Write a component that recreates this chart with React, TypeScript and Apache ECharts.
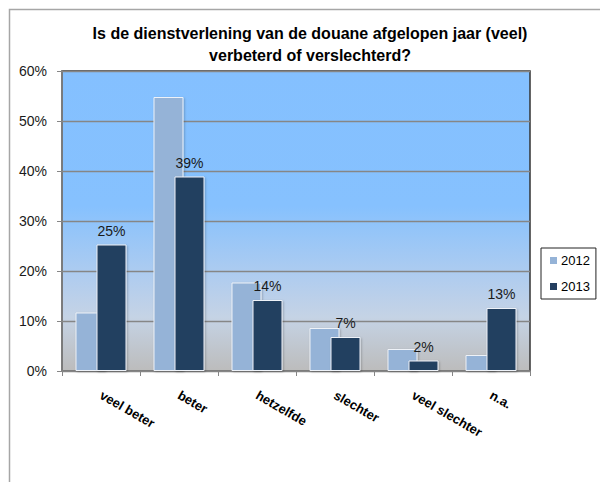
import React, { useEffect, useRef } from "react";
import * as echarts from "echarts";

const titleLines = [
  "Is de dienstverlening van de douane afgelopen jaar (veel)",
  "verbeterd of verslechterd?",
];
const categories = ["veel beter", "beter", "hetzelfde", "slechter", "veel slechter", "n.a."];
const seriesNames = ["2012", "2013"];
const values2012 = [11.7, 54.8, 17.7, 8.6, 4.4, 3.2];
const values2013 = [25.3, 38.9, 14.2, 6.8, 2.1, 12.6];
const yMin = 0;
const yMax = 60;
const yStep = 10;

const FONT = "'Liberation Sans', Arial, sans-serif";

export default function App() {
  const ref = useRef<HTMLDivElement>(null);
  useEffect(() => {
    if (!ref.current) return;
    const chart = echarts.init(ref.current, undefined, { renderer: "svg" });
    chart.setOption({
      animation: false,
      backgroundColor: "#ffffff",
      textStyle: { fontFamily: FONT },
      graphic: [
        {
          type: "rect",
          shape: { x: 9.5, y: 9.5, width: 640, height: 520 },
          style: { fill: "none", stroke: "#a6a6a6", lineWidth: 1.5 },
          silent: true,
          z: -10,
        },
        {
          type: "text",
          x: 310,
          y: 22,
          style: {
            text: titleLines.join("\n"),
            fontFamily: FONT,
            fontSize: 16,
            fontWeight: "bold",
            lineHeight: 22,
            fill: "#000000",
            align: "center",
            verticalAlign: "top",
          },
        },
      ],
      grid: {
        left: 62,
        top: 71,
        right: 70,
        bottom: 111,
        show: true,
        borderColor: "#333333",
        borderWidth: 1.5,
        backgroundColor: {
          type: "linear",
          x: 0,
          y: 0,
          x2: 0,
          y2: 1,
          colorStops: [
            { offset: 0, color: "#84c0ff" },
            { offset: 0.45, color: "#86c1fe" },
            { offset: 0.7, color: "#b2cdee" },
            { offset: 0.82, color: "#c5d3e5" },
            { offset: 1, color: "#bcbcbc" },
          ],
        },
      },
      legend: {
        data: seriesNames,
        orient: "vertical",
        left: 541,
        top: 248,
        icon: "rect",
        itemWidth: 7,
        itemHeight: 7,
        itemGap: 13,
        padding: [6, 6, 6, 9],
        borderColor: "#222222",
        borderWidth: 1,
        backgroundColor: "#ffffff",
        itemStyle: { borderWidth: 0 },
        textStyle: { fontFamily: FONT, fontSize: 13, color: "#000000", padding: [0, 0, 0, -1] },
      },
      xAxis: {
        type: "category",
        data: categories,
        axisLine: { show: true, lineStyle: { color: "#868686", width: 1.5 } },
        axisTick: { show: true, length: 5, lineStyle: { color: "#868686" } },
        axisLabel: {
          rotate: -30,
          margin: 23,
          fontFamily: FONT,
          fontSize: 13,
          fontWeight: "bold",
          color: "#000000",
        },
      },
      yAxis: {
        type: "value",
        min: yMin,
        max: yMax,
        interval: yStep,
        axisLine: { show: true, lineStyle: { color: "#868686", width: 1.5 } },
        axisTick: { show: true, length: 5, lineStyle: { color: "#868686" } },
        axisLabel: {
          formatter: "{value}%",
          margin: 15,
          fontFamily: FONT,
          fontSize: 14,
          color: "#1a1a1a",
        },
        splitLine: { show: true, lineStyle: { color: "#868686", width: 1.3 } },
      },
      series: [
        {
          name: seriesNames[0],
          type: "bar",
          data: values2012,
          barWidth: 30,
          barGap: "-30%",
          itemStyle: {
            color: "#95b3d7",
            borderColor: "#eef2f8",
            borderWidth: 1,
            shadowColor: "rgba(0,0,0,0.25)",
            shadowBlur: 2,
            shadowOffsetX: 1,
            shadowOffsetY: 1,
          },
        },
        {
          name: seriesNames[1],
          type: "bar",
          data: values2013,
          barWidth: 30,
          itemStyle: {
            color: "#243f60",
            borderColor: "#eef2f8",
            borderWidth: 1,
            shadowColor: "rgba(0,0,0,0.25)",
            shadowBlur: 2,
            shadowOffsetX: 1,
            shadowOffsetY: 1,
          },
          label: {
            show: true,
            position: "top",
            distance: 7,
            fontFamily: FONT,
            fontSize: 14,
            color: "#1a1a1a",
            formatter: (p: any) => Math.round(p.value) + "%",
          },
        },
      ],
    });
    return () => chart.dispose();
  }, []);
  return (
    <div
      ref={ref}
      style={{ position: "absolute", left: 0, top: 0, width: 600, height: 482 }}
    />
  );
}
